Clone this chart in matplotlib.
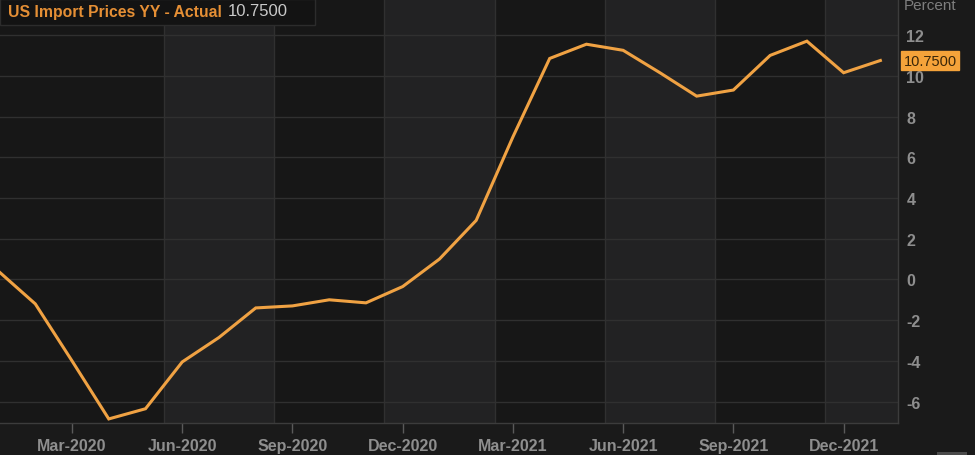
import matplotlib
matplotlib.use("Agg")
import matplotlib.pyplot as plt
from matplotlib.patches import Rectangle

plt.rcParams["axes.unicode_minus"] = False

# ---- data ----
months = ["2020-01", "2020-02", "2020-03", "2020-04", "2020-05", "2020-06",
          "2020-07", "2020-08", "2020-09", "2020-10", "2020-11", "2020-12",
          "2021-01", "2021-02", "2021-03", "2021-04", "2021-05", "2021-06",
          "2021-07", "2021-08", "2021-09", "2021-10", "2021-11", "2021-12",
          "2022-01"]
values = [0.4, -1.2, -4.0, -6.85, -6.35, -4.05, -2.85, -1.4, -1.3, -1.0,
          -1.15, -0.35, 1.0, 2.9, 7.0, 10.85, 11.55, 11.25, 10.15, 9.0,
          9.3, 11.0, 11.7, 10.15, 10.75]
tick_labels = ["Mar-2020", "Jun-2020", "Sep-2020", "Dec-2020",
               "Mar-2021", "Jun-2021", "Sep-2021", "Dec-2021"]
tick_months = ["2020-03", "2020-06", "2020-09", "2020-12",
               "2021-03", "2021-06", "2021-09", "2021-12"]
y_ticks = [-6, -4, -2, 0, 2, 4, 6, 8, 10, 12]
title = "US Import Prices YY - Actual"
last_value_text = "10.7500"
unit = "Percent"

# ---- style ----
BG = "#1a1a1a"
DARK_BAND = "#171717"
LIGHT_BAND = "#222223"
GRID = "#303030"
LINE = "#f0a243"
TXT = "#8e8e8e"
FONT = "Liberation Sans"

W, H = 975, 456
fig = plt.figure(figsize=(W / 100, H / 100), dpi=100, facecolor=BG)
ax_left, ax_right, ax_bottom, ax_top = 0.0, 898 / W, (456 - 424) / H, 1.0
ax = fig.add_axes([ax_left, ax_bottom, ax_right - ax_left, ax_top - ax_bottom])
ax.set_facecolor(DARK_BAND)

x = list(range(len(months)))
xt = [months.index(m) for m in tick_months]

ax.set_xlim(0.04, 24.48)
ax.set_ylim(-7.05, 13.77)

# alternating shaded bands between mid-quarter boundaries
edges = [4.5, 7.5, 10.5, 13.5, 16.5, 19.5, 22.5, 25.5]
for i in range(0, len(edges) - 1, 2):
    ax.axvspan(edges[i], edges[i + 1], color=LIGHT_BAND, zorder=0, lw=0)
for e in edges[:-1]:
    ax.axvline(e, color=GRID, lw=1.0, zorder=1)

ax.set_yticks(y_ticks)
ax.yaxis.grid(True, color=GRID, lw=1.0, zorder=1)
ax.set_axisbelow(True)

ax.plot(x, values, color=LINE, lw=2.2, zorder=3, solid_joinstyle="miter")

# axes styling
for s in ["top", "left"]:
    ax.spines[s].set_visible(False)
for s in ["bottom", "right"]:
    ax.spines[s].set_color("#3c3c3c")
    ax.spines[s].set_linewidth(1.0)

ax.set_xticks(xt)
ax.set_xticklabels(tick_labels)
ax.tick_params(axis="x", colors="#5a5a5a", length=7, width=1, pad=4,
               labelcolor=TXT, labelsize=11.5)
ax.yaxis.tick_right()
ax.tick_params(axis="y", length=0, pad=6, labelcolor=TXT, labelsize=11.5)
for lab in ax.get_xticklabels() + ax.get_yticklabels():
    lab.set_fontfamily(FONT)
    lab.set_fontweight("bold")

# unit label
fig.text(904 / W, 1 - 6 / H, unit, color="#7e7e7e", fontsize=11,
         fontfamily=FONT, ha="left", va="center")

# last value box on right axis
ax.annotate(last_value_text, xy=(1.0, values[-1]), xycoords=("axes fraction", "data"),
            xytext=(4, 0), textcoords="offset points", ha="left", va="center",
            fontsize=10.5, fontfamily=FONT, color="#3a2608",
            bbox=dict(boxstyle="square,pad=0.18", fc="#f5a33a", ec="#f5a33a"),
            annotation_clip=False, zorder=5)

# title box
fig.patches.append(Rectangle((0, 1 - 26 / H), 315 / W, 26 / H, transform=fig.transFigure,
                             facecolor="#131313", edgecolor="#2c2c2c", lw=1.0, zorder=10))
t1 = fig.text(8 / W, 1 - 12 / H, title, color="#e58f35", fontsize=11.3,
              fontfamily=FONT, fontweight="bold", ha="left", va="center", zorder=11)
fig.canvas.draw()
bb = t1.get_window_extent()
fig.text((bb.x1 + 6) / W, 1 - 12 / H, last_value_text, color="#c9c9c9", fontsize=12,
         fontfamily=FONT, ha="left", va="center", zorder=11)

# small scroll widget at bottom right
fig.patches.append(Rectangle((937 / W, 0), 30 / W, 3 / H, transform=fig.transFigure,
                             facecolor="#4a4a4a", edgecolor="none", zorder=10))

fig.savefig("out.png", dpi=100, facecolor=BG)
